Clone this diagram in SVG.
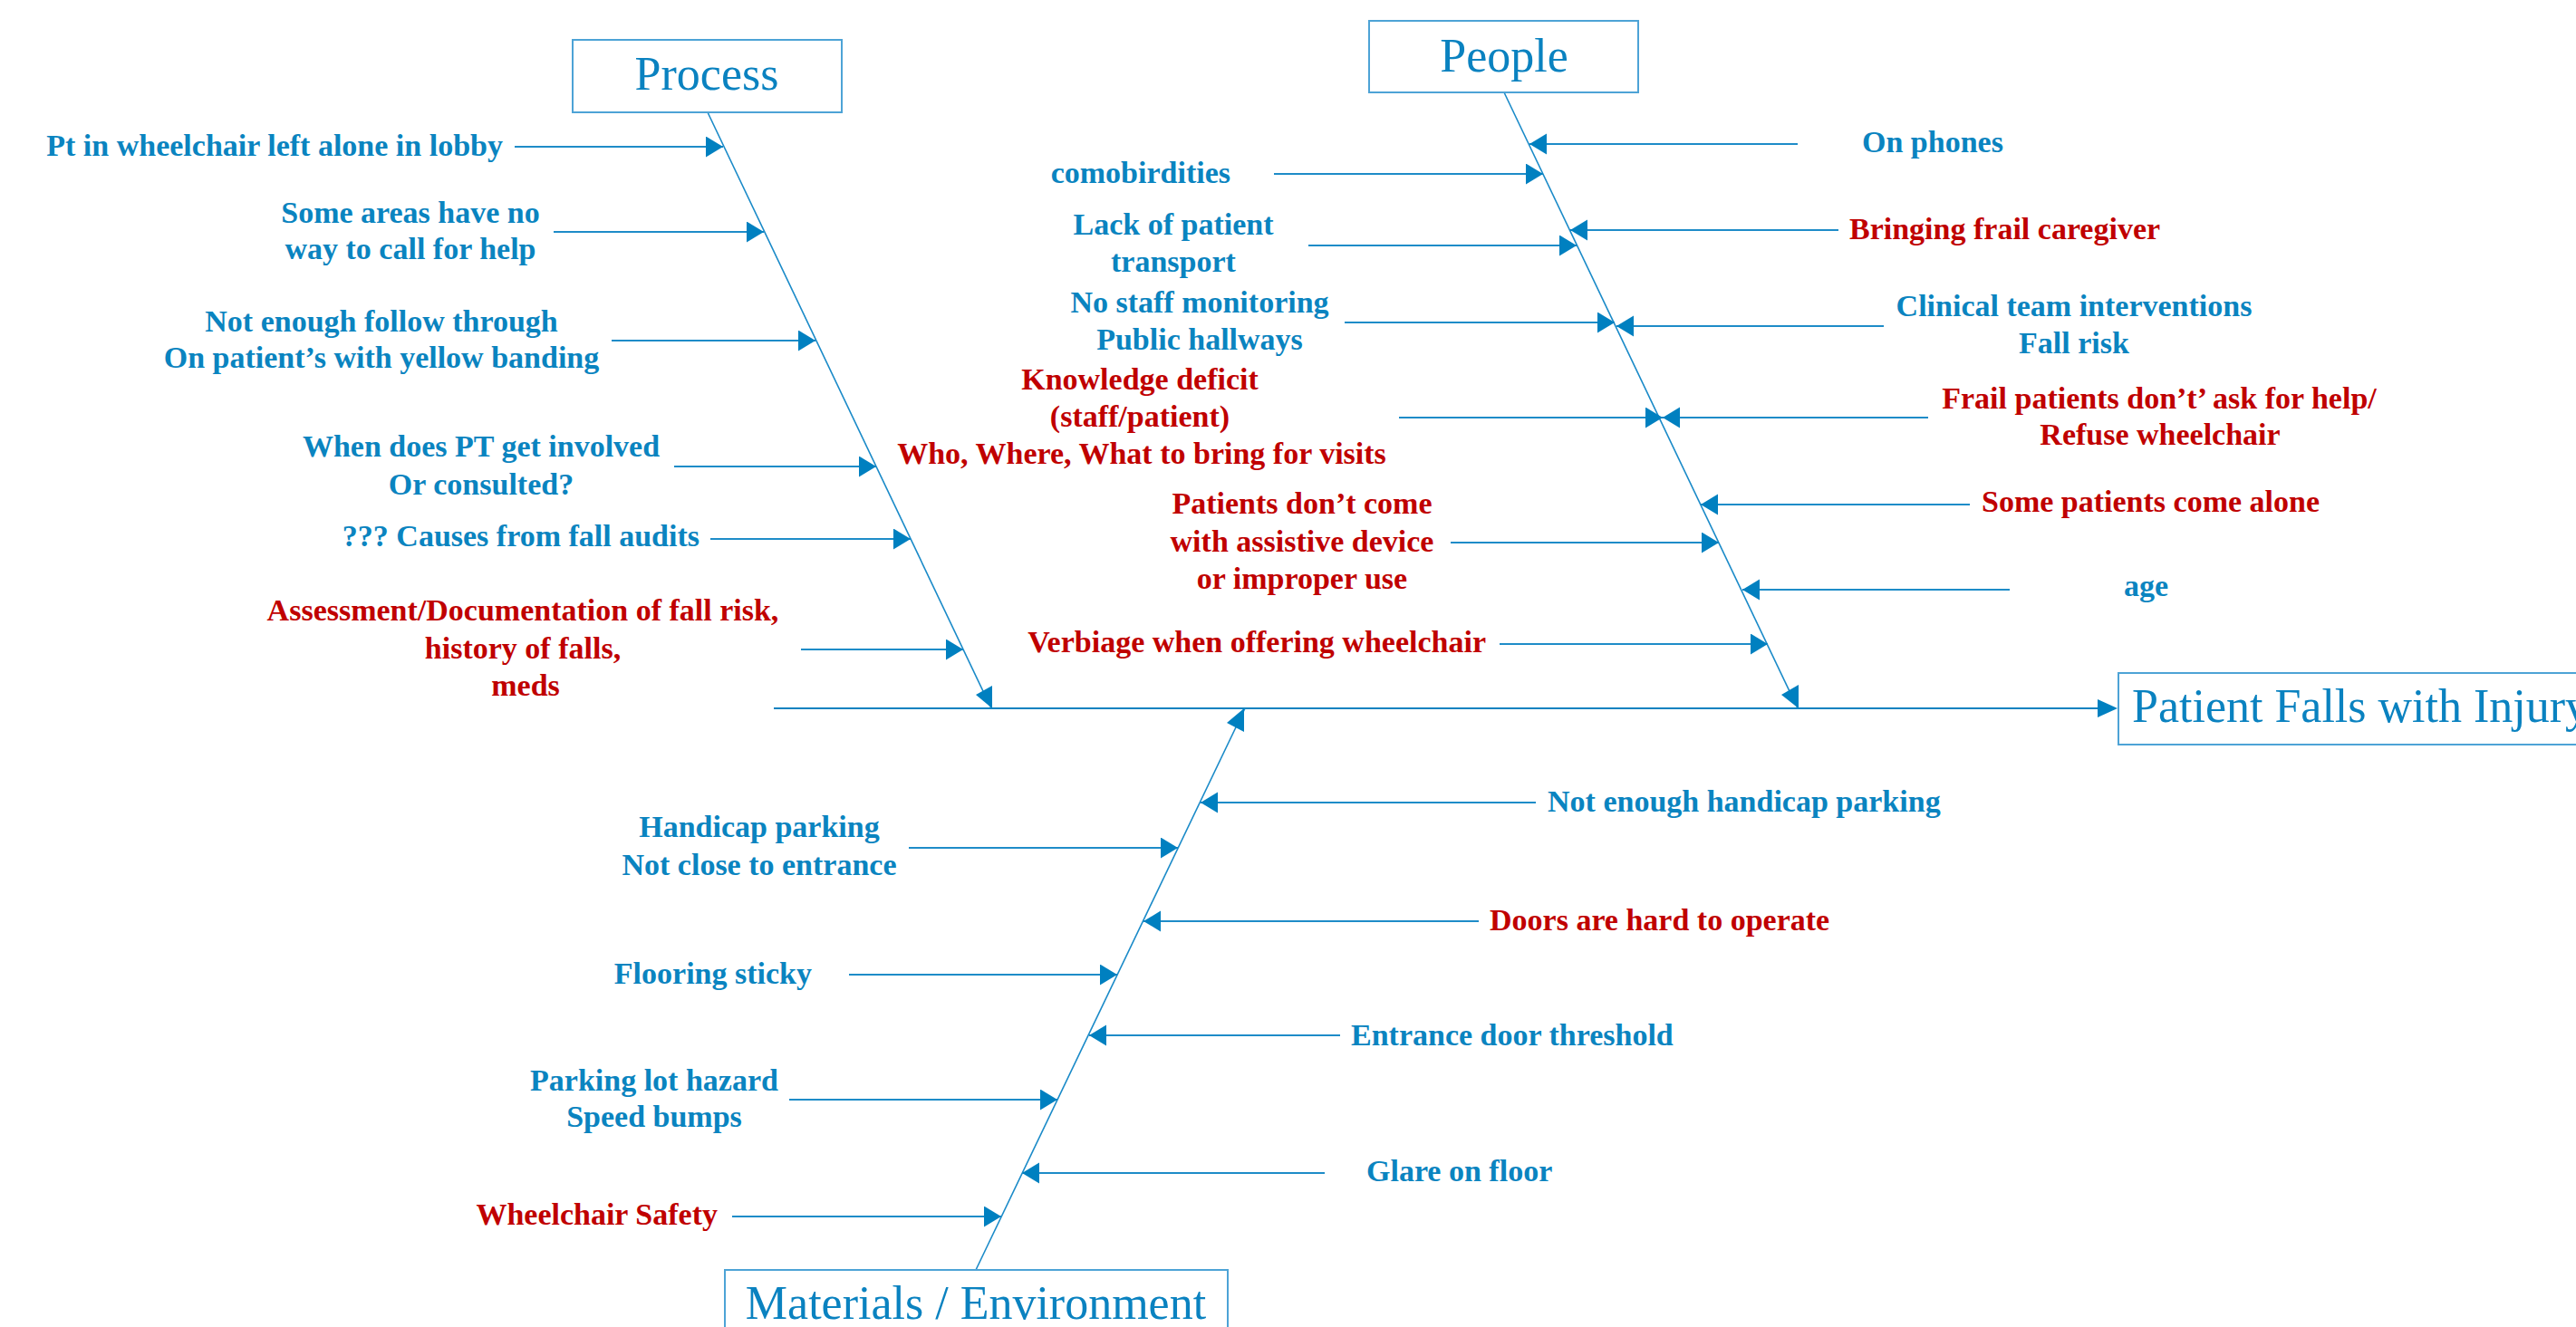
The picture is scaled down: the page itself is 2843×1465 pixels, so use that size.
<svg xmlns="http://www.w3.org/2000/svg" width="2843" height="1465" viewBox="0 0 2843 1465">
<style>
.bg{fill:#ffffff}
.box{fill:#ffffff;stroke:#4DA3D6;stroke-width:2}
.cat{font-family:"Liberation Serif","Times New Roman",serif;font-size:52px;fill:#0A82C0}
.t{font-family:"Liberation Serif","Times New Roman",serif;font-size:34px;font-weight:bold;fill:#0A84C0}
.r{fill:#C00000}
.m{text-anchor:middle}
.e{text-anchor:end}
.spine{stroke:#1A8AC8;stroke-width:1.6;fill:none}
.br{stroke:#1E8CC8;stroke-width:2;fill:none;marker-end:url(#ah)}
.main{stroke:#0A82C0;stroke-width:2.2;fill:none}
.head{fill:#0080C0}
</style>
<defs>
<marker id="ah" markerUnits="userSpaceOnUse" markerWidth="20" markerHeight="24" refX="19" refY="11.5" orient="auto" viewBox="0 0 20 24">
<path d="M0,0 L19,11.5 L0,23 Z" fill="#0080C0"/>
</marker>
</defs>
<rect class="bg" x="0" y="0" width="2843" height="1465"/>

<g id="connectors">
<line class="main" x1="854" y1="782" x2="2316" y2="782"/>
<polygon class="head" points="2315,772 2315,792 2337,782"/>
<line class="spine" x1="781" y1="124" x2="1094" y2="782"/>
<polygon class="head" points="1095,757 1095,782 1077,767"/>
<line class="spine" x1="1660" y1="102" x2="1984" y2="782"/>
<polygon class="head" points="1985,756 1985,782 1966,767"/>
<line class="spine" x1="1077" y1="1402" x2="1374" y2="782"/>
<polygon class="head" points="1373,782 1373,808 1354,798"/>
<!-- Process branches -->
<line class="br" x1="568" y1="162" x2="798" y2="162"/>
<line class="br" x1="611" y1="256" x2="843" y2="256"/>
<line class="br" x1="675" y1="376" x2="900" y2="376"/>
<line class="br" x1="744" y1="515" x2="967" y2="515"/>
<line class="br" x1="784" y1="595" x2="1005" y2="595"/>
<line class="br" x1="884" y1="717" x2="1063" y2="717"/>
<!-- People branches left -->
<line class="br" x1="1406" y1="192" x2="1703" y2="192"/>
<line class="br" x1="1444" y1="271" x2="1740" y2="271"/>
<line class="br" x1="1484" y1="356" x2="1782" y2="356"/>
<line class="br" x1="1544" y1="461" x2="1835" y2="461"/>
<line class="br" x1="1601" y1="599" x2="1897" y2="599"/>
<line class="br" x1="1655" y1="711" x2="1951" y2="711"/>
<!-- People branches right -->
<line class="br" x1="1984" y1="159" x2="1688" y2="159"/>
<line class="br" x1="2029" y1="254" x2="1733" y2="254"/>
<line class="br" x1="2079" y1="360" x2="1784" y2="360"/>
<line class="br" x1="2128" y1="461" x2="1835" y2="461"/>
<line class="br" x1="2174" y1="557" x2="1877" y2="557"/>
<line class="br" x1="2218" y1="651" x2="1923" y2="651"/>
<!-- Materials branches left -->
<line class="br" x1="1003" y1="936" x2="1300" y2="936"/>
<line class="br" x1="937" y1="1076" x2="1233" y2="1076"/>
<line class="br" x1="871" y1="1214" x2="1167" y2="1214"/>
<line class="br" x1="808" y1="1343" x2="1105" y2="1343"/>
<!-- Materials branches right -->
<line class="br" x1="1695" y1="886" x2="1325" y2="886"/>
<line class="br" x1="1632" y1="1017" x2="1262" y2="1017"/>
<line class="br" x1="1479" y1="1143" x2="1202" y2="1143"/>
<line class="br" x1="1462" y1="1295" x2="1128" y2="1295"/>
</g>

<g id="node-process">
<rect class="box" x="632" y="44" width="297" height="80"/>
<text class="cat m" x="780" y="99">Process</text>
</g>
<g id="node-people">
<rect class="box" x="1511" y="23" width="297" height="79"/>
<text class="cat m" x="1660" y="79">People</text>
</g>
<g id="node-materials">
<rect class="box" x="800" y="1402" width="555" height="100"/>
<text class="cat m" x="1077" y="1456">Materials / Environment</text>
</g>
<g id="node-effect">
<rect class="box" x="2338" y="743" width="600" height="79"/>
<text class="cat" x="2353" y="797">Patient Falls with Injury</text>
</g>

<g id="causes-process">
<text class="t e" x="555" y="172">Pt in wheelchair left alone in lobby</text>
<text class="t m" x="453" y="246">Some areas have no</text>
<text class="t m" x="453" y="286">way to call for help</text>
<text class="t m" x="421" y="366">Not enough follow through</text>
<text class="t m" x="421" y="406">On patient’s with yellow banding</text>
<text class="t m" x="531" y="504">When does PT get involved</text>
<text class="t m" x="531" y="546">Or consulted?</text>
<text class="t e" x="772" y="603">??? Causes from fall audits</text>
<text class="t r m" x="577" y="685">Assessment/Documentation of fall risk,</text>
<text class="t r m" x="577" y="727">history of falls,</text>
<text class="t r m" x="580" y="768">meds</text>
</g>

<g id="causes-people">
<text class="t e" x="1358" y="202">comobirdities</text>
<text class="t m" x="1295" y="259">Lack of patient</text>
<text class="t m" x="1295" y="300">transport</text>
<text class="t m" x="1324" y="345">No staff monitoring</text>
<text class="t m" x="1324" y="386">Public hallways</text>
<text class="t r m" x="1258" y="430">Knowledge deficit</text>
<text class="t r m" x="1258" y="471">(staff/patient)</text>
<text class="t r m" x="1260" y="512">Who, Where, What to bring for visits</text>
<text class="t r m" x="1437" y="567">Patients don’t come</text>
<text class="t r m" x="1437" y="609">with assistive device</text>
<text class="t r m" x="1437" y="650">or improper use</text>
<text class="t r e" x="1640" y="720">Verbiage when offering wheelchair</text>
<text class="t" x="2055" y="168">On phones</text>
<text class="t r" x="2041" y="264">Bringing frail caregiver</text>
<text class="t m" x="2289" y="349">Clinical team interventions</text>
<text class="t m" x="2289" y="390">Fall risk</text>
<text class="t r m" x="2383" y="451">Frail patients don’t’ ask for help/</text>
<text class="t r m" x="2384" y="491">Refuse wheelchair</text>
<text class="t r" x="2187" y="565">Some patients come alone</text>
<text class="t" x="2344" y="658">age</text>
</g>

<g id="causes-materials">
<text class="t m" x="838" y="924">Handicap parking</text>
<text class="t m" x="838" y="966">Not close to entrance</text>
<text class="t e" x="896" y="1086">Flooring sticky</text>
<text class="t m" x="722" y="1204">Parking lot hazard</text>
<text class="t m" x="722" y="1244">Speed bumps</text>
<text class="t r e" x="792" y="1352">Wheelchair Safety</text>
<text class="t" x="1708" y="896">Not enough handicap parking</text>
<text class="t r" x="1644" y="1027">Doors are hard to operate</text>
<text class="t" x="1491" y="1154">Entrance door threshold</text>
<text class="t" x="1508" y="1304">Glare on floor</text>
</g>
</svg>
